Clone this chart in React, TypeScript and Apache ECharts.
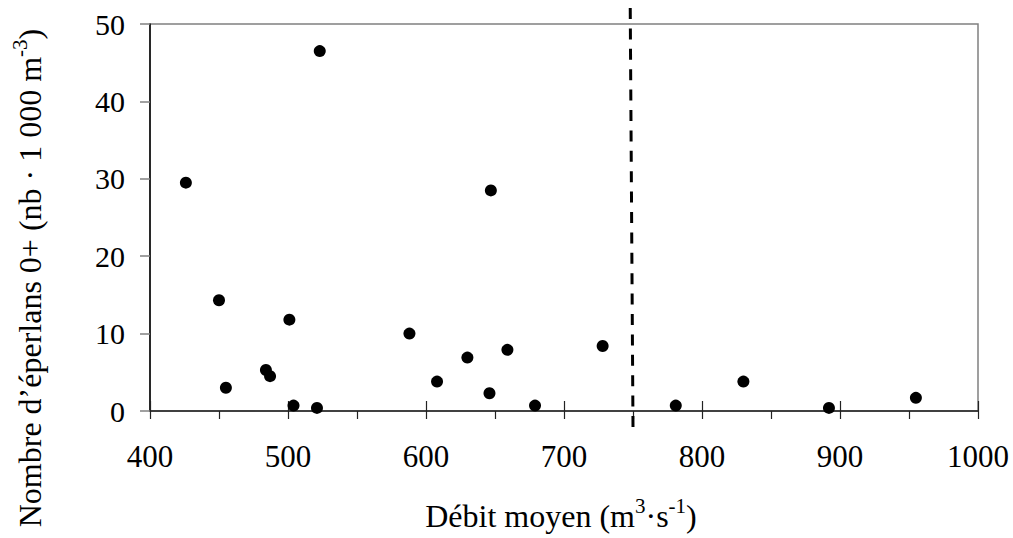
import React, { useEffect, useRef } from "react";
import * as echarts from "echarts";

const discharge = [426, 450, 455, 484, 487, 501, 504, 521, 523, 588, 608, 630, 646, 647, 659, 679, 728, 781, 830, 892, 955];
const smelt = [29.5, 14.3, 3.0, 5.3, 4.5, 11.8, 0.7, 0.4, 46.5, 10.0, 3.8, 6.9, 2.3, 28.5, 7.9, 0.7, 8.4, 0.7, 3.8, 0.4, 1.7];
const xRange = [400, 1000];
const yRange = [0, 50];
const thresholdBottom = 750;
const thresholdTop = 748;
// [text, isSuperscript]
const xTitle: [string, boolean][] = [["Débit moyen (m", false], ["3", true], ["·s", false], ["-1", true], [")", false]];
const yTitle: [string, boolean][] = [["Nombre d’éperlans 0+ (nb · 1 000 m", false], ["-3", true], [")", false]];

const FAMILY = "Liberation Serif";
const TITLE_SIZE = 32;
const SUP_SIZE = 21;
const SUP_RISE = 10;

function titleGraphic(parts: [string, boolean][], cx: number, cy: number, rotation: number) {
  const ctx = document.createElement("canvas").getContext("2d")!;
  const widths = parts.map(([t, s]) => {
    ctx.font = `${s ? SUP_SIZE : TITLE_SIZE}px ${FAMILY}`;
    return ctx.measureText(t).width;
  });
  const total = widths.reduce((a, b) => a + b, 0);
  let pos = -total / 2;
  const children = parts.map(([t, s], i) => {
    const el = {
      type: "text",
      x: pos,
      y: s ? -SUP_RISE : 0,
      style: {
        text: t,
        fontSize: s ? SUP_SIZE : TITLE_SIZE,
        fontFamily: FAMILY,
        fill: "#000",
        align: "left",
        verticalAlign: "middle",
      },
    };
    pos += widths[i];
    return el;
  });
  return { type: "group", x: cx, y: cy, rotation, children };
}

export default function App() {
  const ref = useRef<HTMLDivElement>(null);
  useEffect(() => {
    if (!ref.current) return;
    const chart = echarts.init(ref.current, undefined, { renderer: "svg" });
    const pts = discharge.map((x, i) => [x, smelt[i]]);
    chart.setOption({
      animation: false,
      backgroundColor: "#fff",
      grid: [
        { left: 150, right: 35, top: 24, bottom: 127, show: true, borderColor: "#808080", borderWidth: 1.5, backgroundColor: "transparent", outerBoundsMode: "none", containLabel: false },
        { left: 150, right: 35, top: 8, bottom: 111, show: false, outerBoundsMode: "none", containLabel: false },
      ],
      xAxis: [
        {
          type: "value", gridIndex: 0, min: xRange[0], max: xRange[1], interval: 100,
          axisLine: { show: true, lineStyle: { color: "#222", width: 1.5 } },
          axisTick: { show: true, inside: false, length: 8, lineStyle: { color: "#222", width: 1.2 } },
          minorTick: { show: true, splitNumber: 2, length: 8, lineStyle: { color: "#222", width: 1.2 } },
          splitLine: { show: false },
          axisLabel: { fontSize: 31, fontFamily: FAMILY, color: "#000", margin: 30, formatter: (v: number) => String(v) },
        },
        {
          type: "value", gridIndex: 0, min: xRange[0], max: xRange[1], interval: 100, position: "bottom",
          axisLine: { show: false },
          axisTick: { show: true, inside: true, length: 10, lineStyle: { color: "#222", width: 1.2 } },
          axisLabel: { show: false },
          splitLine: { show: false },
        },
        { type: "value", gridIndex: 1, min: xRange[0], max: xRange[1], show: false },
      ],
      yAxis: [
        {
          type: "value", gridIndex: 0, min: yRange[0], max: yRange[1], interval: 10,
          axisLine: { show: true, lineStyle: { color: "#000", width: 1.5 } },
          axisTick: { show: true, inside: false, length: 10, lineStyle: { color: "#808080", width: 1.5 } },
          splitLine: { show: false },
          axisLabel: { fontSize: 30, fontFamily: FAMILY, color: "#000", margin: 25 },
        },
        { type: "value", gridIndex: 1, min: 0, max: 1, show: false },
      ],
      series: [
        {
          type: "line", xAxisIndex: 2, yAxisIndex: 1,
          data: [[thresholdBottom, 0], [thresholdTop, 1]],
          symbol: "none", silent: true,
          lineStyle: { color: "#000", width: 3, type: [11, 9.4] },
        },
        {
          type: "scatter", xAxisIndex: 0, yAxisIndex: 0,
          data: pts, symbol: "circle", symbolSize: 12,
          itemStyle: { color: "#000", opacity: 1 },
        },
      ],
      graphic: [
        titleGraphic(xTitle, 561, 516, 0),
        titleGraphic(yTitle, 30, 278, Math.PI / 2),
      ],
    });
    return () => chart.dispose();
  }, []);
  return <div ref={ref} style={{ position: "fixed", left: 0, top: 0, width: 1013, height: 538 }} />;
}
